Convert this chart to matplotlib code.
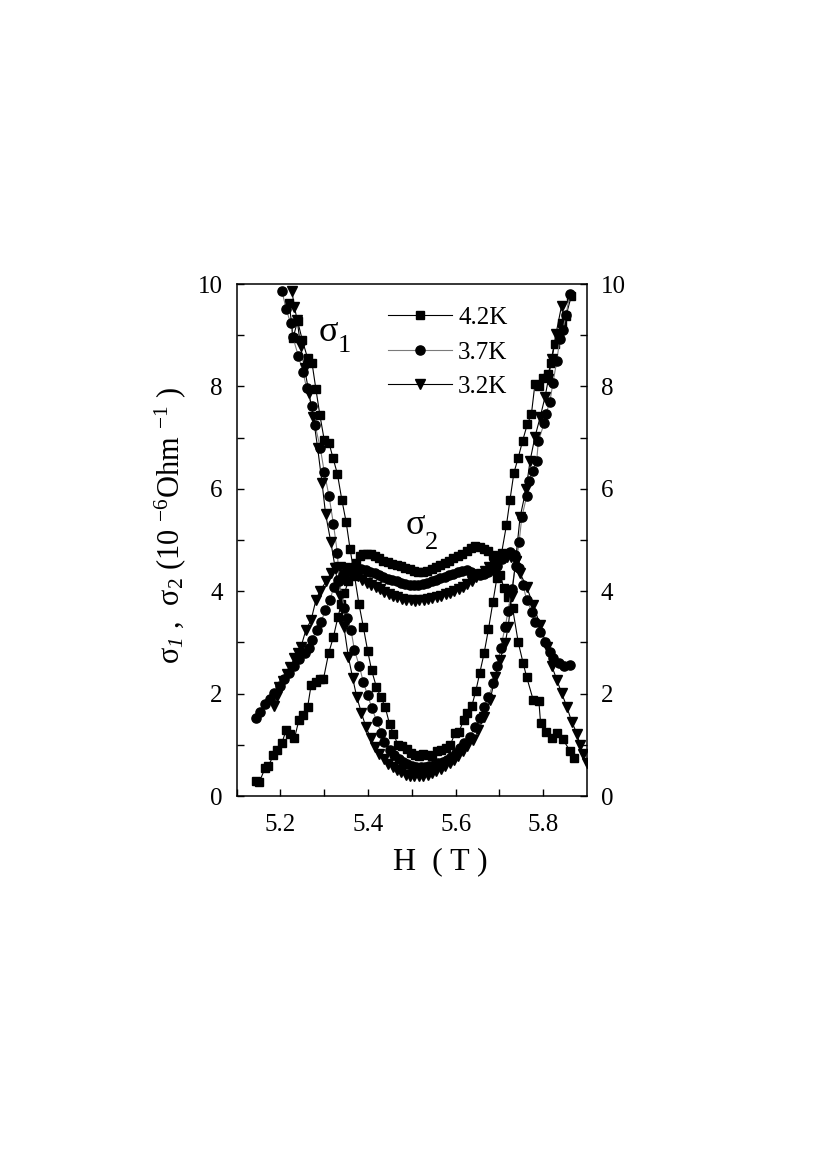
import numpy as np
import matplotlib
matplotlib.use("Agg")
import matplotlib.pyplot as plt

plt.rcParams['font.family'] = ['Liberation Serif', 'DejaVu Serif']
plt.rcParams['mathtext.fontset'] = 'custom'
plt.rcParams['mathtext.rm'] = 'Liberation Serif'
plt.rcParams['mathtext.it'] = 'Liberation Serif:italic'
plt.rcParams['mathtext.sf'] = 'Liberation Serif:italic'

# sigma_1, 4.2 K (squares)
h_s1_42 = [5.220, 5.229, 5.239, 5.250, 5.262, 5.272, 5.281, 5.290, 5.300, 5.311,
           5.320, 5.330, 5.340, 5.350, 5.359, 5.369, 5.379, 5.389, 5.399, 5.408,
           5.419, 5.429, 5.439, 5.449, 5.458, 5.468, 5.478, 5.488, 5.498, 5.507,
           5.517, 5.526, 5.536, 5.546, 5.557, 5.567, 5.577, 5.588, 5.599, 5.608,
           5.618, 5.627, 5.637, 5.646, 5.655, 5.665, 5.675, 5.685, 5.694, 5.705,
           5.716, 5.724, 5.733, 5.743, 5.753, 5.764, 5.773, 5.781, 5.791, 5.800,
           5.811, 5.818, 5.826, 5.835, 5.843, 5.852, 5.864]
s1_42 = [9.62, 8.95, 9.28, 8.90, 8.55, 8.46, 7.94, 7.44, 6.95, 6.89,
         6.60, 6.29, 5.79, 5.35, 4.82, 4.30, 3.76, 3.31, 2.84, 2.46,
         2.13, 1.94, 1.74, 1.41, 1.22, 1.00, 0.97, 0.91, 0.84, 0.80,
         0.78, 0.83, 0.80, 0.78, 0.87, 0.90, 0.93, 1.00, 1.24, 1.26,
         1.48, 1.62, 1.76, 2.05, 2.40, 2.79, 3.26, 3.78, 4.25, 4.75,
         5.29, 5.78, 6.31, 6.61, 6.94, 7.27, 7.46, 8.04, 8.01, 8.16,
         8.24, 8.45, 8.83, 9.02, 9.23, 9.38, 9.76]

# sigma_2, 4.2 K (squares)
h_s2_42 = [5.144, 5.152, 5.165, 5.172, 5.184, 5.192, 5.203, 5.213, 5.221, 5.232,
           5.242, 5.251, 5.262, 5.270, 5.281, 5.290, 5.298, 5.310, 5.321, 5.331,
           5.339, 5.346, 5.355, 5.364, 5.372, 5.381, 5.389, 5.397, 5.406, 5.415,
           5.425, 5.435, 5.445, 5.455, 5.465, 5.475, 5.485, 5.495, 5.505, 5.515,
           5.525, 5.535, 5.545, 5.555, 5.565, 5.575, 5.585, 5.595, 5.605, 5.615,
           5.625, 5.635, 5.645, 5.655, 5.665, 5.675, 5.685, 5.694, 5.702, 5.710,
           5.720, 5.730, 5.743, 5.754, 5.762, 5.777, 5.790, 5.794, 5.807, 5.820,
           5.831, 5.845, 5.861, 5.870]
s2_42 = [0.30, 0.28, 0.55, 0.58, 0.80, 0.90, 1.03, 1.29, 1.22, 1.13,
         1.48, 1.59, 1.74, 2.17, 2.23, 2.28, 2.28, 2.79, 3.11, 3.49,
         3.75, 3.96, 4.20, 4.40, 4.55, 4.68, 4.72, 4.73, 4.72, 4.68,
         4.64, 4.60, 4.57, 4.54, 4.52, 4.49, 4.46, 4.43, 4.40, 4.38,
         4.38, 4.40, 4.44, 4.48, 4.52, 4.56, 4.60, 4.64, 4.68, 4.73,
         4.79, 4.85, 4.88, 4.87, 4.83, 4.78, 4.70, 4.55, 4.32, 4.06,
         3.88, 3.67, 3.00, 2.60, 2.33, 1.88, 1.86, 1.42, 1.25, 1.13,
         1.23, 1.11, 0.88, 0.75]

# sigma_1, 3.7 K (circles)
h_s1_37 = [5.203, 5.213, 5.223, 5.228, 5.241, 5.251, 5.260, 5.271, 5.279, 5.291,
           5.300, 5.311, 5.321, 5.330, 5.334, 5.346, 5.353, 5.361, 5.369, 5.380,
           5.389, 5.399, 5.409, 5.420, 5.430, 5.437, 5.450, 5.460, 5.470, 5.480,
           5.490, 5.500, 5.510, 5.520, 5.530, 5.540, 5.550, 5.560, 5.570, 5.580,
           5.590, 5.600, 5.610, 5.620, 5.633, 5.644, 5.656, 5.665, 5.675, 5.686,
           5.695, 5.703, 5.713, 5.720, 5.728, 5.737, 5.745, 5.751, 5.762, 5.768,
           5.776, 5.785, 5.789, 5.802, 5.806, 5.815, 5.822, 5.831, 5.838, 5.845,
           5.852, 5.861]
s1_37 = [9.87, 9.52, 9.23, 8.97, 8.59, 8.29, 7.96, 7.62, 7.25, 6.79,
         6.33, 5.85, 5.31, 4.74, 4.19, 3.67, 3.47, 3.24, 2.85, 2.54,
         2.23, 1.97, 1.71, 1.46, 1.24, 1.06, 0.90, 0.80, 0.72, 0.66,
         0.62, 0.59, 0.57, 0.56, 0.57, 0.59, 0.61, 0.64, 0.67, 0.70,
         0.76, 0.84, 0.93, 1.03, 1.16, 1.35, 1.52, 1.74, 1.94, 2.20,
         2.53, 2.90, 3.30, 3.62, 4.05, 4.50, 4.96, 5.44, 5.85, 6.16,
         6.35, 6.55, 6.93, 7.28, 7.46, 7.69, 8.06, 8.50, 8.93, 9.10,
         9.40, 9.80]

# sigma_2, 3.7 K (circles)
h_s2_37 = [5.144, 5.153, 5.165, 5.176, 5.186, 5.198, 5.208, 5.220, 5.232, 5.243,
           5.255, 5.264, 5.271, 5.283, 5.293, 5.302, 5.313, 5.322, 5.331, 5.342,
           5.350, 5.358, 5.366, 5.375, 5.385, 5.395, 5.405, 5.415, 5.425, 5.435,
           5.445, 5.455, 5.465, 5.475, 5.485, 5.495, 5.505, 5.515, 5.525, 5.535,
           5.545, 5.555, 5.565, 5.575, 5.585, 5.595, 5.605, 5.615, 5.625, 5.635,
           5.645, 5.655, 5.665, 5.675, 5.685, 5.695, 5.705, 5.715, 5.725, 5.735,
           5.745, 5.754, 5.762, 5.774, 5.781, 5.793, 5.804, 5.815, 5.822, 5.835,
           5.848, 5.861]
s2_37 = [1.52, 1.65, 1.79, 1.89, 2.02, 2.15, 2.28, 2.41, 2.54, 2.67,
         2.80, 2.90, 3.05, 3.24, 3.40, 3.63, 3.83, 4.09, 4.22, 4.32,
         4.38, 4.44, 4.47, 4.46, 4.44, 4.41, 4.38, 4.35, 4.32, 4.28,
         4.24, 4.21, 4.19, 4.16, 4.14, 4.12, 4.12, 4.13, 4.15, 4.17,
         4.20, 4.22, 4.25, 4.28, 4.31, 4.34, 4.37, 4.40, 4.41, 4.38,
         4.33, 4.32, 4.34, 4.38, 4.43, 4.50, 4.62, 4.72, 4.76, 4.70,
         4.45, 4.12, 3.83, 3.60, 3.40, 3.21, 3.01, 2.82, 2.70, 2.59,
         2.54, 2.56]

# sigma_1, 3.2 K (triangles)
h_s1_32 = [5.226, 5.232, 5.238, 5.246, 5.255, 5.265, 5.275, 5.285, 5.295, 5.303,
           5.315, 5.325, 5.335, 5.345, 5.355, 5.365, 5.374, 5.385, 5.395, 5.406,
           5.416, 5.426, 5.436, 5.446, 5.456, 5.466, 5.476, 5.486, 5.496, 5.506,
           5.516, 5.526, 5.536, 5.546, 5.556, 5.566, 5.576, 5.586, 5.596, 5.606,
           5.616, 5.626, 5.640, 5.652, 5.665, 5.679, 5.690, 5.701, 5.713, 5.720,
           5.728, 5.737, 5.747, 5.761, 5.770, 5.781, 5.793, 5.804, 5.812, 5.819,
           5.829, 5.842]
s1_32 = [9.86, 9.55, 9.30, 8.78, 8.35, 7.88, 7.40, 6.79, 6.11, 5.51,
         4.96, 4.45, 3.90, 3.30, 2.72, 2.30, 1.94, 1.62, 1.35, 1.13,
         0.95, 0.82, 0.72, 0.63, 0.56, 0.50, 0.46, 0.42, 0.40, 0.39,
         0.39, 0.40, 0.42, 0.45, 0.49, 0.53, 0.58, 0.64, 0.71, 0.79,
         0.88, 0.97, 1.10, 1.28, 1.55, 1.88, 2.33, 2.66, 2.98, 3.31,
         3.90, 4.60, 5.44, 6.00, 6.55, 7.01, 7.40, 7.79, 8.15, 8.54,
         9.02, 9.58]

# sigma_2, 3.2 K (triangles)
h_s2_32 = [5.186, 5.192, 5.197, 5.205, 5.214, 5.222, 5.232, 5.240, 5.247, 5.258,
           5.270, 5.281, 5.290, 5.304, 5.315, 5.327, 5.337, 5.347, 5.357, 5.367,
           5.377, 5.387, 5.397, 5.407, 5.417, 5.427, 5.437, 5.447, 5.457, 5.467,
           5.477, 5.487, 5.497, 5.507, 5.517, 5.527, 5.537, 5.547, 5.557, 5.567,
           5.577, 5.587, 5.597, 5.607, 5.617, 5.627, 5.637, 5.647, 5.657, 5.667,
           5.677, 5.687, 5.697, 5.707, 5.717, 5.727, 5.737, 5.747, 5.762, 5.777,
           5.793, 5.808, 5.820, 5.831, 5.842, 5.854, 5.865, 5.877, 5.884, 5.891,
           5.899]
s2_32 = [1.76, 1.95, 2.13, 2.25, 2.39, 2.52, 2.69, 2.80, 2.92, 3.24,
         3.44, 3.83, 4.00, 4.19, 4.35, 4.45, 4.48, 4.45, 4.40, 4.35,
         4.29, 4.22, 4.17, 4.12, 4.08, 4.04, 3.99, 3.95, 3.91, 3.88,
         3.85, 3.83, 3.82, 3.81, 3.82, 3.83, 3.84, 3.86, 3.88, 3.91,
         3.94, 3.97, 4.01, 4.05, 4.09, 4.14, 4.20, 4.27, 4.34, 4.40,
         4.47, 4.54, 4.60, 4.64, 4.66, 4.66, 4.60, 4.35, 4.09, 3.73,
         3.34, 2.92, 2.53, 2.27, 2.01, 1.74, 1.45, 1.22, 1.00, 0.82,
         0.64]

temps = ['4.2K', '3.7K', '3.2K']
markers = ['s', 'o', 'v']
line_colors = ['black', '#7a7a7a', 'black']

fig = plt.figure(figsize=(8.17, 11.76), dpi=100)
ax = fig.add_axes([0.2897, 0.3231, 0.4288, 0.4354])

series = [(h_s1_42, s1_42, h_s2_42, s2_42),
          (h_s1_37, s1_37, h_s2_37, s2_37),
          (h_s1_32, s1_32, h_s2_32, s2_32)]

ms = {'s': 6.0, 'o': 6.6, 'v': 7.2}
for (h1, y1, h2, y2), t, m, lc in zip(series, temps, markers, line_colors):
    ax.plot(h1, y1, color=lc, lw=0.8, marker=m, ms=ms[m], mfc='black', mec='black', label=t)
    ax.plot(h2, y2, color=lc, lw=0.8, marker=m, ms=ms[m], mfc='black', mec='black')

ax.set_xlim(5.1, 5.9)
ax.set_ylim(0, 10)
ax.set_xticks([5.2, 5.4, 5.6, 5.8])
ax.set_xticks([5.1, 5.3, 5.5, 5.7], minor=True)
ax.set_yticks([0, 2, 4, 6, 8, 10])
ax.set_yticks([1, 3, 5, 7, 9], minor=True)
ax.tick_params(which='both', direction='in', length=5, width=1,
               left=True, right=True, top=False, bottom=True,
               labelleft=True, labelright=True, labelsize=18)
ax.tick_params(axis='x', which='major', pad=13)
ax.tick_params(axis='y', which='major', pad=10)
for sp in ax.spines.values():
    sp.set_linewidth(1.1)

# curve labels: sigma glyph and its (lowered, large) subscript
ax.text(5.310, 9.06, 'σ', fontsize=26, ha='center', va='center')
ax.text(5.346, 8.78, '1', fontsize=19, ha='center', va='center')
ax.text(5.507, 5.29, 'σ', fontsize=26, ha='center', va='center')
ax.text(5.545, 4.94, '2', fontsize=19, ha='center', va='center')

ax.legend(loc='upper left', bbox_to_anchor=(0.432, 0.956), frameon=False,
          fontsize=18, handlelength=2.56, handletextpad=0.24, labelspacing=0.48,
          borderaxespad=0, borderpad=0)

fig.text(440 / 817, 1 - 862 / 1176, 'H  ( T )', fontsize=23, ha='center', va='center')
fig.text(170 / 817, 1 - 525 / 1176,
         r'σ$_{\mathsf{1}}$ ,  σ$_2$ (10 $^{-6}$Ohm $^{-1}$ )',
         fontsize=22, rotation=90, ha='center', va='center')

fig.savefig('out.png', dpi=100)
